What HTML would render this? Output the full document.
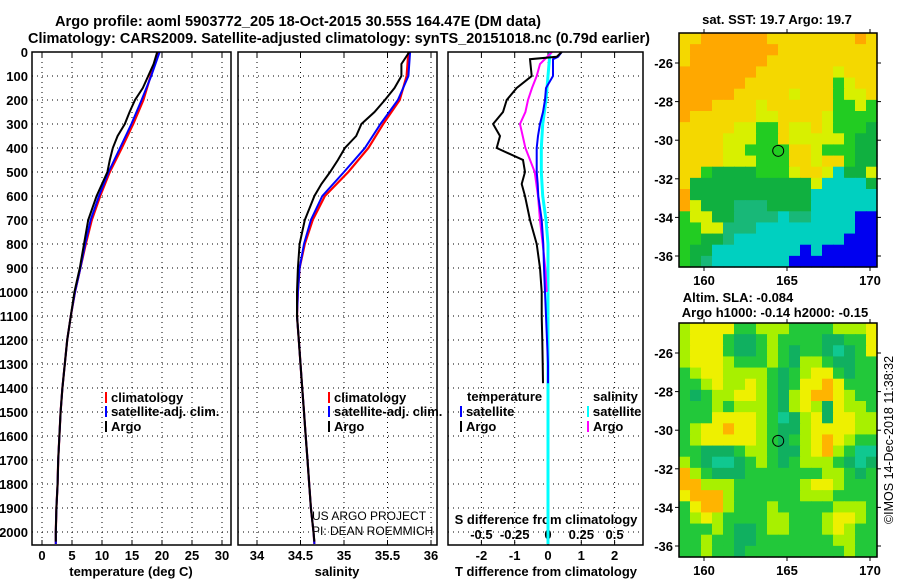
<!DOCTYPE html>
<html><head><meta charset="utf-8">
<style>
html,body{margin:0;padding:0;background:#fff;}
svg{display:block;font-family:"Liberation Sans",sans-serif;}
.b{font-weight:bold;}
</style></head>
<body>
<svg id="chart" width="900" height="580" viewBox="0 0 900 580" xmlns="http://www.w3.org/2000/svg">
<text x="55" y="26" textLength="486" lengthAdjust="spacingAndGlyphs" class="b" font-size="14.5">Argo profile: aoml 5903772_205 18-Oct-2015 30.55S 164.47E (DM data)</text>
<text x="28" y="43" textLength="622" lengthAdjust="spacingAndGlyphs" class="b" font-size="14.5">Climatology: CARS2009. Satellite-adjusted climatology: synTS_20151018.nc (0.79d earlier)</text>
<g id="g"></g>
</svg>
<script>
// ---------- data ----------
const tDepth = [0,100,200,300,400,500,600,700,800,900,1000,1100,1200,1300,1400,1500,1600,1700,1800,1900,2000,2050];
const tClim  = [19.5,18.1,16.9,15.2,13.3,11.3,9.7,8.3,7.3,6.4,5.5,4.8,4.2,3.8,3.4,3.1,2.9,2.7,2.6,2.4,2.3,2.3];
const tSat   = [19.6,18.2,16.6,14.9,13.0,11.1,9.5,8.1,7.2,6.4,5.5,4.8,4.2,3.8,3.4,3.1,2.9,2.7,2.6,2.4,2.3,2.3];
const argoDepth = [0,50,100,150,200,250,300,350,400,450,500,550,600,700,800,900,1000,1100,1200,1300,1400,1500,1600,1700,1800,1900,2000,2040];
const tArgo  = [19.2,18.6,17.7,16.8,15.5,14.6,13.8,12.6,11.8,11.3,10.9,10.0,9.1,7.7,7.0,6.3,5.4,4.8,4.2,3.8,3.4,3.1,2.9,2.7,2.6,2.4,2.3,2.3];
const sClim  = [35.74,35.72,35.64,35.45,35.28,35.05,34.78,34.64,34.55,34.49,34.47,34.46,34.48,34.50,34.52,34.54,34.56,34.58,34.60,34.62,34.65,34.66];
const sSat   = [35.76,35.74,35.62,35.42,35.24,35.00,34.75,34.62,34.54,34.49,34.47,34.46,34.48,34.50,34.52,34.54,34.56,34.58,34.60,34.62,34.65,34.66];
const sArgo  = [35.75,35.66,35.66,35.58,35.47,35.35,35.20,35.14,35.01,34.93,34.84,34.74,34.66,34.55,34.49,34.47,34.46,34.46,34.48,34.50,34.52,34.54,34.56,34.58,34.60,34.62,34.65,34.66];
const dDepth = [0,20,30,100,150,200,250,300,350,400,450,500,550,600,700,800,900,1000,1100,1200,1300,1380];
const dTArgo = [0.41,0.26,-0.54,-0.49,-0.94,-1.24,-1.35,-1.65,-1.44,-1.54,-0.75,-0.69,-0.79,-0.69,-0.54,-0.34,-0.24,-0.19,-0.19,-0.17,-0.16,-0.15];
const dTSat  = [0.41,0.3,0.15,0.15,-0.06,-0.09,-0.15,-0.24,-0.3,-0.34,-0.34,-0.34,-0.31,-0.29,-0.19,-0.14,-0.12,-0.09,-0.06,-0.03,0.0,0.0];
const sdDepth = [0,50,100,150,200,250,300,400,500,600,700,800,900,1000];
const dSArgo = [0.03,-0.06,-0.085,-0.12,-0.15,-0.17,-0.21,-0.17,-0.10,-0.075,-0.06,-0.04,-0.02,-0.01];
const csDepth = [0,100,200,300,400,500,600,700,800,2050];
const dSSat  = [0.015,0,-0.015,-0.04,-0.05,-0.05,-0.04,-0.015,0,0];
const depthTicks = [0,100,200,300,400,500,600,700,800,900,1000,1100,1200,1300,1400,1500,1600,1700,1800,1900,2000];
const tTicks = [0,5,10,15,20,25,30];
const sTicks = [34,34.5,35,35.5,36];
const dTTicks = [-2,-1,0,1,2];
const dSTicks = [-0.5,-0.25,0,0.25,0.5];
const lonTicks = [160,165,170];
const latTicks = [-26,-28,-30,-32,-34,-36];
const floatLon = 164.47, floatLat = -30.55;
const sstGrid = [
"YYOOOOOOYYYYYYYYOY","YOOOOOOOOYYYYYYYYY","YOOOOOOOYYYYYYYYYY","OOOOOOOYYYYYYYLYYY",
"OOOOOOYYYYYYYYGLYY","OOOOOYYYYYLYYYGLLY","OOOYYYYLYYYYYYGGLG","OYYYYYYLLYYYYLGGGG",
"YYYYYLLGGYLLYLGGGD","YYYYLLLGGYLLLLLGDD","YYYYLLGGGGYYLGGGDD","YYYYLLLGGGYYLYYGDD",
"YYGDDDDGGGLYYLCDDL","YDDDDDDDDDDDLCCCCD","ODDDDDDDDDDDCCCCCC","OLDDDTTTDDDDCCCCCC",
"GLLDDTTTTCTTCCCCBB","GGLLTTTCCCCCCCCCBB","GGDDTCCCCCCCCCCBBB","GDDCCCCCCCCBCBBBBB","GDTCCCCCCCBBBBBBBB"];
const slaGrid = [
"LYYYYGGLLLGGGGLLLY","LYYYGDDGLGGGGDDGGY","LYYYGDDGLGDGGDTDGY","LYYYLGGGLGDLLGDDGG",
"GLYYLLLLGDGLYYGDGG","GGLYLLYLGDGYYOYGGG","GDGLLYYLGDLYOOYLGG","GGGLGLLLGDLYLDYLLG",
"GGGYYYYLGTDLYDYYLL","GLYYOYYLGDDLYYYYLL","GLYYYYYLGDGLYOYLGG","GGDDDGLLGDDLYOLGTT",
"LGDTTDGLGDGLLLGDTD","OLGDDDGGGGGGGLLGDG","OOLLLGGGGGGLYYLGGG","YOOOLGGGGGGLLLGGGG",
"GYOOLGGGLGGGGGLLLG","GLYLGGGGLLGGGLYYLG","GGGLGDDGLLGGGLYLGG","GGLGGDDGGGGGGGLLGG","GGLGGDGGGGGGGGGLGG"];

// ---------- helpers ----------
const NS="http://www.w3.org/2000/svg";
const G=document.getElementById('g');
function el(tag,attrs,parent){const e=document.createElementNS(NS,tag);for(const k in attrs)e.setAttribute(k,attrs[k]);(parent||G).appendChild(e);return e;}
function txt(x,y,s,size,anchor,bold){const t=el('text',{x:x,y:y,'font-size':size,'text-anchor':anchor||'middle','font-weight':bold===false?'normal':'bold'});t.textContent=s;return t;}
const Y0=52, PY=0.24, YB=545;
const yD=d=>Y0+d*PY;
const xT=v=>42+v*6;
const xS=v=>257+(v-34)*87;
const xDT=v=>548+v*33.3;
const xDS=v=>548+v*133.2;
const panels=[[32,231],[238,437],[448,643]];
const FS=13;

// grids and boxes
panels.forEach((p,i)=>{
  depthTicks.forEach(d=>{if(d>0){const l=el('line',{x1:p[0],x2:p[1],y1:yD(d),y2:yD(d),stroke:'#000','stroke-width':1,'stroke-dasharray':'1,4'});
  
  }});
  const xs = i===0?tTicks.map(xT):i===1?sTicks.map(xS):dTTicks.map(xDT);
  xs.forEach(x=>{if(x>p[0]+1&&x<p[1]-1){const l=el('line',{x1:x,x2:x,y1:Y0,y2:YB,stroke:'#000','stroke-width':1,'stroke-dasharray':'1,4'});
  
  
  el('line',{x1:x,x2:x,y1:Y0,y2:Y0+5,stroke:'#000'});
  el('line',{x1:x,x2:x,y1:YB,y2:YB-5,stroke:'#000'});}});
});
// y labels
depthTicks.forEach(d=>{const t=txt(28,yD(d)+5,String(d),FS,'end');
  
  });
tTicks.forEach(v=>{const t=txt(xT(v),560,String(v),FS);
  
  });
sTicks.forEach(v=>{const t=txt(xS(v),560,String(v),FS);
  
  });
dTTicks.forEach(v=>{const t=txt(xDT(v),560,String(v),FS);
  
  });
dSTicks.forEach(v=>{const t=txt(xDS(v),539,String(v),FS);
  
  });
let t;
t=txt(131,576,'temperature (deg C)',FS);
t=txt(337,576,'salinity',FS);
t=txt(546,576,'T difference from climatology',FS);
t=txt(546,524,'S difference from climatology',FS);
t=txt(312,520,'US ARGO PROJECT',12,'start',false);
t=txt(312,535,'PI: DEAN ROEMMICH',12,'start',false);

// lines
function line(xs,ds,xf,color,w,name){
  const pts=xs.map((v,i)=>xf(v).toFixed(1)+','+Math.min(yD(ds[i]),YB).toFixed(1)).join(' ');
  const p=el('polyline',{points:pts,fill:'none',stroke:color,'stroke-width':w,'stroke-linejoin':'miter'});
  
  
}
line(tClim,tDepth,xT,'#f00',2.2,'temperature-climatology-line');
line(tSat,tDepth,xT,'#00f',2,'temperature-satellite-line');
line(tArgo,argoDepth,xT,'#000',2,'temperature-argo-line');
line(sClim,tDepth,xS,'#f00',2.2,'salinity-climatology-line');
line(sSat,tDepth,xS,'#00f',2,'salinity-satellite-line');
line(sArgo,argoDepth,xS,'#000',2,'salinity-argo-line');
line(dSSat,csDepth,xDS,'#0ff',3,'s-diff-satellite-line');
line(dSArgo,sdDepth,xDS,'#f0f',2,'s-diff-argo-line');
line(dTSat,dDepth,xDT,'#00f',2,'t-diff-satellite-line');
line(dTArgo,dDepth,xDT,'#000',2,'t-diff-argo-line');

panels.forEach(p=>{const r=el('rect',{x:p[0],y:Y0,width:p[1]-p[0],height:YB-Y0,fill:'none',stroke:'#000','stroke-width':1.5});
  
  });

// legends
function leg(x,y,color,label,name){
  const r=el('rect',{x:x,y:y-10,width:2,height:11,fill:color});
  
  
  const tt=txt(x+6,y,label,FS,'start');
  
  
}
leg(105,402,'#f00','climatology','legend-climatology');
leg(105,416,'#00f','satellite-adj. clim.','legend-satellite-adj');
leg(105,431,'#000','Argo','legend-argo');
leg(328,402,'#f00','climatology','legend-climatology-2');
leg(328,416,'#00f','satellite-adj. clim.','legend-satellite-adj-2');
leg(328,431,'#000','Argo','legend-argo-2');
t=txt(467,401,'temperature',FS,'start');
t=txt(593,401,'salinity',FS,'start');
leg(460,416,'#00f','satellite','legend-t-satellite');
leg(460,431,'#000','Argo','legend-t-argo');
leg(587,416,'#0ff','satellite','legend-s-satellite');
leg(587,431,'#f0f','Argo','legend-s-argo');

// maps
const MX0=679,MX1=877;
const lonX=l=>704+(l-160)*16.6;
const colA={O:'#ffa800',Y:'#f4d800',L:'#d8f000',G:'#22cc22',D:'#10b040',T:'#18b878',C:'#00d0c0',B:'#0000f0'};
const colB={O:'#ffb400',Y:'#eef000',L:'#a8f000',G:'#22c83a',D:'#10b060',T:'#10c890'};
function map(top,grid,cols,name){
  const H=234,W=MX1-MX0;
  const latY=l=>top+30+(-26-l)*19.3;
  const g=el('g',{});
  
  
  const cw=W/grid[0].length, ch=H/grid.length;
  grid.forEach((row,r)=>{for(let c=0;c<row.length;c++){
    el('rect',{x:(MX0+c*cw).toFixed(2),y:(top+r*ch).toFixed(2),width:(cw+0.6).toFixed(2),height:(ch+0.6).toFixed(2),fill:cols[row[c]]},g);}});
  const fr=el('rect',{x:MX0,y:top,width:W,height:H,fill:'none',stroke:'#000','stroke-width':1.5});
  
  
  latTicks.forEach(l=>{const y=latY(l);
    el('line',{x1:MX0,x2:MX0-4,y1:y,y2:y,stroke:'#000'});
    el('line',{x1:MX1,x2:MX1+4,y1:y,y2:y,stroke:'#000'});
    const tt=txt(673,y+5,String(l),FS,'end');
    
    });
  lonTicks.forEach(l=>{const x=lonX(l);
    el('line',{x1:x,x2:x,y1:top+H,y2:top+H+4,stroke:'#000'});
    el('line',{x1:x,x2:x,y1:top,y2:top-4,stroke:'#000'});
    const tt=txt(x,top+H+18,String(l),FS);
    
    });
  const c=el('circle',{cx:lonX(floatLon),cy:latY(floatLat),r:5.5,fill:'none',stroke:'#000','stroke-width':1});
  
  
  return g;
}
map(33,sstGrid,colA,'sst-map');
map(323,slaGrid,colB,'sla-map');
t=txt(777,24,'sat. SST: 19.7 Argo: 19.7',FS);
t=txt(738,302,'Altim. SLA: -0.084',FS);
t=txt(775,317,'Argo h1000: -0.14 h2000: -0.15',FS);
t=txt(0,0,'©IMOS 14-Dec-2018 11:38:32',12.5,'middle',false);
t.setAttribute('transform','translate(893,440) rotate(-90)');

</script>
</body></html>
